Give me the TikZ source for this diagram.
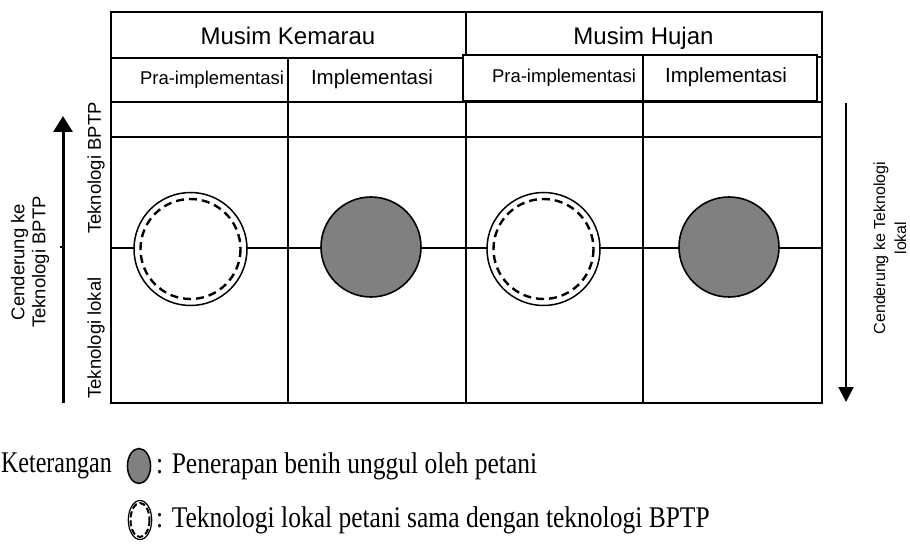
\documentclass[tikz,border=0pt]{standalone}
\usepackage{fontspec}
\setmainfont{Liberation Serif}
\newfontfamily\arialf{Liberation Sans}
\usetikzlibrary{arrows.meta}
\definecolor{fillgray}{RGB}{128,128,128}
\begin{document}
\begin{tikzpicture}[x=1pt,y=-1pt,
  gridline/.style={line width=1.6pt, draw=black},
  bighead/.style={font=\arialf\fontsize{24}{28}\selectfont, anchor=base, inner sep=0pt},
  subhead/.style={font=\arialf\fontsize{20.5}{24}\selectfont, anchor=base, inner sep=0pt},
  smallhead/.style={font=\arialf\fontsize{18.5}{22}\selectfont, anchor=base, inner sep=0pt},
  sidelabel/.style={font=\arialf\fontsize{18.5}{21}\selectfont, rotate=90, inner sep=0pt, align=center},
  rightlabel/.style={font=\arialf\fontsize{16}{21}\selectfont, rotate=90, inner sep=0pt, align=center},
  emptyc/.style={circle, draw, line width=1.5pt, fill=white, minimum size=113pt, inner sep=0pt},
  fullc/.style={circle, draw, line width=1.6pt, fill=fillgray, minimum size=100pt, inner sep=0pt},
  dashring/.style={line width=2.4pt, dash pattern=on 8pt off 5pt},
  legendtext/.style={font=\fontsize{30}{33}\selectfont, anchor=west, inner sep=0pt, xscale=0.85},
  legendhead/.style={font=\fontsize{30}{33}\selectfont, anchor=west, inner sep=0pt, xscale=0.80}
]
\useasboundingbox (0,0) rectangle (910,553);
% table frame
\draw[gridline] (111,12) rectangle (822,403);
\draw[gridline] (466,12) -- (466,55);
\draw[gridline] (111,58) -- (466,58);
\draw[gridline] (111,102) -- (822,102);
\draw[gridline] (111,137) -- (822,137);
\draw[gridline] (288,58) -- (288,403);
\draw[gridline] (466,102) -- (466,403);
\draw[gridline] (643,102) -- (643,403);
% offset sub-header box for Musim Hujan
\draw[gridline, fill=white] (463,55) rectangle (817,101);
\draw[gridline] (643,55) -- (643,101);
\draw[gridline] (817,57) -- (822,57);
% mid line
\draw[gridline] (111,248) -- (822,248);
% headers
\node[bighead] (mk) at (288,45) {Musim Kemarau};
\node[bighead] (mh) at (643.5,45) {Musim Hujan};
\node[smallhead] (pk) at (212,85) {Pra-implementasi};
\node[subhead] (ik) at (372,85) {Implementasi};
\node[smallhead] (ph) at (564,83) {Pra-implementasi};
\node[subhead] (ih) at (726,83) {Implementasi};
% side labels
\node[sidelabel] (tb) at (96,168) {Teknologi BPTP};
\node[sidelabel] (tl) at (96,338) {Teknologi lokal};
\node[sidelabel] (cl) at (30,262) {Cenderung ke\\Teknologi BPTP};
\node[rightlabel] (cr) at (890,248) {Cenderung ke Teknologi\\\hspace*{20pt}lokal};
% arrows
\coordinate (la1) at (63,403);
\coordinate (la2) at (63,116);
\draw[line width=3pt, -{Triangle[width=19pt,length=16pt]}] (la1) -- (la2);
\draw[line width=1.5pt] (60,247) -- (63,247);
\coordinate (ra1) at (846,103);
\coordinate (ra2) at (846,402);
\draw[line width=2pt, -{Triangle[width=15pt,length=15pt]}] (ra1) -- (ra2);
% circles
\node[emptyc] (c1) at (190.5,249) {};
\draw[dashring] (c1.center) circle (50);
\node[fullc] (c2) at (371,247) {};
\node[emptyc] (c3) at (543.5,249) {};
\draw[dashring] (c3.center) circle (50);
\node[fullc] (c4) at (729,247) {};
% legend
\node[legendhead] (ket) at (1,466) {Keterangan};
\node[draw, line width=1.5pt, fill=fillgray, circle, inner sep=0pt, xscale=0.66, minimum size=35pt] (lg1) at (139,466) {};
\node[legendtext] (lt1) at (156,466) {: Penerapan benih unggul oleh petani};
\node[draw, line width=1.2pt, fill=white, circle, inner sep=0pt, xscale=0.6, minimum size=39pt] (lg2) at (140,520) {};
\draw[line width=2pt, dash pattern=on 6pt off 3pt] (lg2.center) ellipse (9.5 and 17);
\node[legendtext] (lt2) at (156,520) {: Teknologi lokal petani sama dengan teknologi BPTP};
\end{tikzpicture}
\end{document}
